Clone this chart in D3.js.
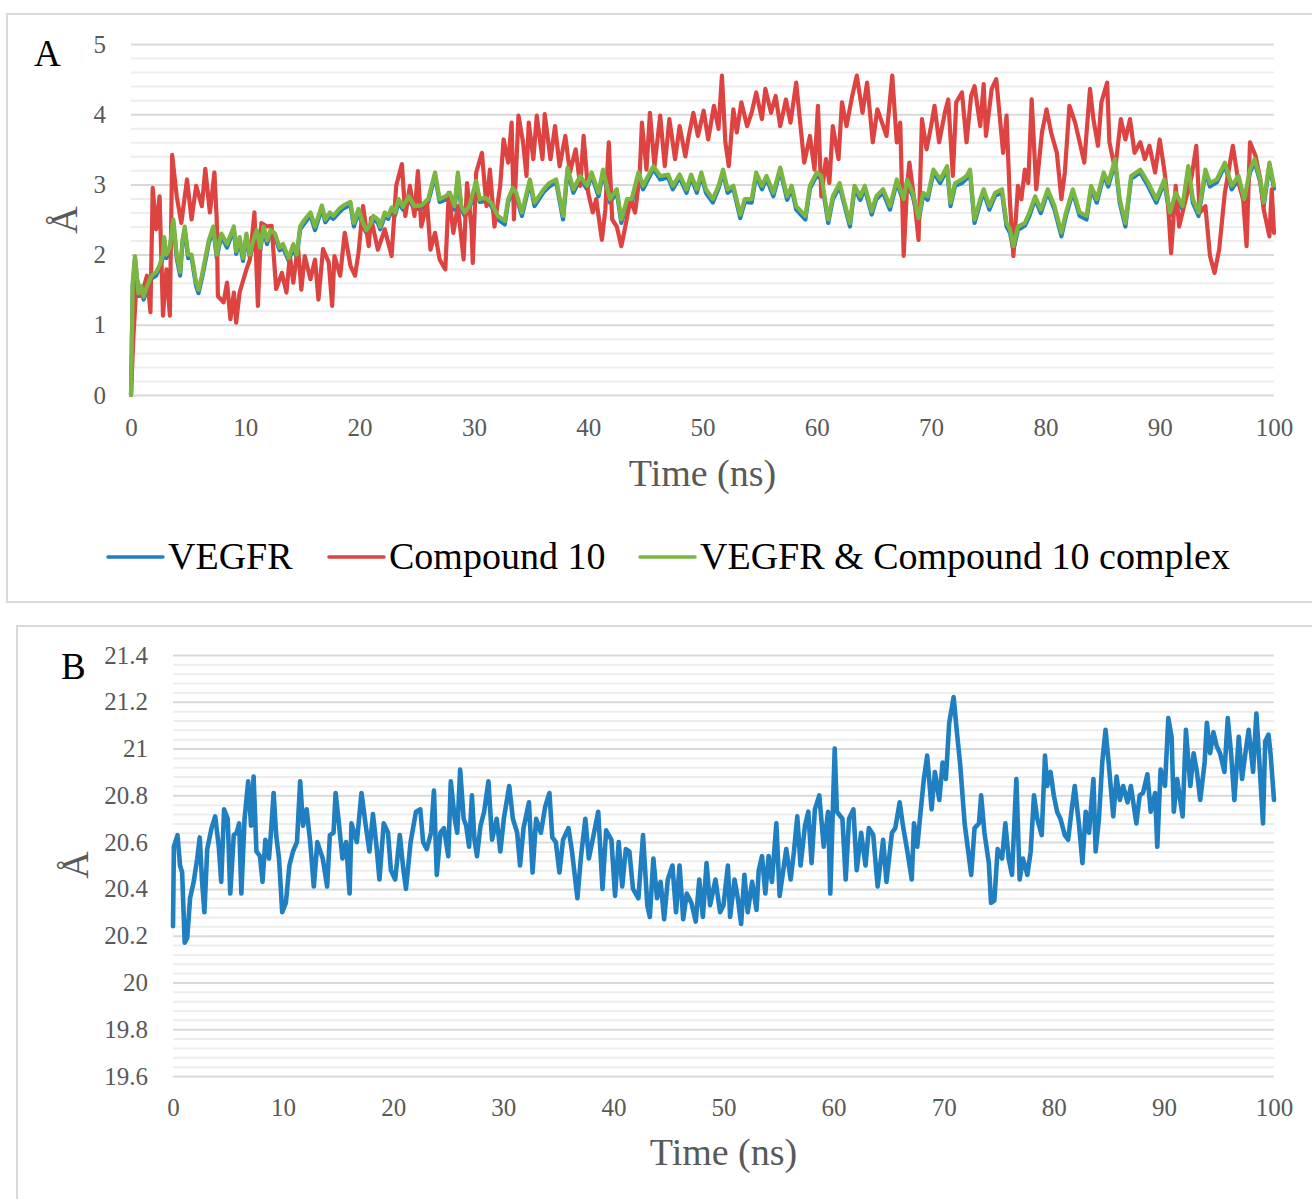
<!DOCTYPE html>
<html>
<head>
<meta charset="utf-8">
<script src="https://cdn.jsdelivr.net/npm/d3@7"></script>
<style>
  body { margin: 0; background: #fff; }
  svg { display: block; }
  text { font-family: "Liberation Serif", "Times New Roman", serif; }
</style>
</head>
<body>
<svg id="fig" width="1312" height="1199"></svg>
<script>
// ---------- Panel A: RMSD (Å) over 100 ns ----------
const timeTicks = [0, 10, 20, 30, 40, 50, 60, 70, 80, 90, 100];
const rmsdTicks = [0, 1, 2, 3, 4, 5];
const seriesNames = ["VEGFR", "Compound 10", "VEGFR & Compound 10 complex"];

// [time (ns), RMSD (Å)]
const vegfrRmsd = [[0,0],[0.15,1.55],[0.35,1.95],[0.65,1.41],[0.9,1.5],[1.1,1.36],[1.4,1.5],[1.8,1.66],[2.2,1.7],[2.5,1.81],[2.8,1.96],[2.9,2.21],[3.1,1.95],[3.4,2.06],[3.7,2.46],[4.0,1.95],[4.3,1.7],[4.5,2.16],[4.7,2.36],[5.0,1.95],[5.3,1.96],[5.5,1.75],[5.7,1.55],[5.9,1.45],[6.2,1.66],[6.5,1.9],[6.8,2.16],[7.2,2.36],[7.5,1.96],[7.9,2.26],[8.4,2.1],[9.0,2.36],[9.2,2.01],[9.5,2.2],[9.8,1.91],[10.1,2.26],[10.4,1.96],[10.7,2.15],[11.0,2.31],[11.3,2.06],[11.6,2.36],[11.9,2.15],[12.2,2.31],[12.6,2.25],[13.0,2.06],[13.3,2.1],[13.8,1.91],[14.2,2.1],[14.5,1.96],[14.8,2.36],[15.2,2.45],[15.7,2.56],[16.1,2.35],[16.7,2.66],[17.0,2.46],[17.4,2.55],[17.7,2.51],[18.2,2.6],[18.6,2.66],[19.2,2.71],[19.5,2.4],[19.9,2.61],[20.3,2.4],[20.6,2.31],[21.0,2.4],[21.2,2.51],[21.6,2.45],[21.8,2.36],[22.2,2.55],[22.5,2.51],[22.8,2.62],[23.1,2.56],[23.4,2.74],[23.8,2.64],[24.3,2.78],[24.8,2.65],[25.4,2.65],[26.0,2.75],[26.6,3.12],[27.0,2.75],[27.5,2.78],[27.9,2.84],[28.3,2.64],[28.6,3.12],[28.9,2.65],[29.2,2.55],[29.6,2.65],[30.2,3.0],[30.5,2.75],[31.0,2.76],[31.5,2.7],[32.1,2.5],[32.7,2.43],[33.0,2.75],[33.4,2.9],[33.7,2.84],[34.2,2.55],[34.9,3.03],[35.3,2.69],[36.1,2.89],[36.6,2.97],[37.2,3.03],[37.8,2.5],[38.2,3.2],[38.7,2.88],[39.3,3.08],[39.9,2.93],[40.3,3.13],[40.9,2.83],[41.3,3.17],[41.9,2.74],[42.5,2.89],[42.9,2.45],[43.4,2.75],[43.8,2.74],[44.4,3.13],[44.8,2.93],[45.7,3.22],[46.3,3.07],[47.0,3.1],[47.4,2.93],[48.0,3.1],[48.6,2.88],[49.0,3.1],[49.5,2.88],[49.9,3.13],[50.3,2.88],[50.9,2.74],[51.4,2.94],[51.8,3.17],[52.2,2.88],[52.7,2.94],[53.3,2.52],[53.7,2.75],[54.3,2.74],[54.7,3.13],[55.2,2.93],[55.6,3.08],[56.2,2.83],[56.8,3.2],[57.4,2.78],[57.8,2.94],[58.2,2.64],[59.0,2.5],[59.4,2.94],[60.0,3.13],[60.4,3.07],[61.0,2.45],[61.4,2.79],[62.0,2.97],[62.5,2.65],[62.9,2.4],[63.3,2.94],[63.8,2.78],[64.2,2.94],[64.8,2.57],[65.2,2.79],[65.8,2.88],[66.4,2.64],[67.0,3.03],[67.6,2.74],[67.9,3.03],[68.4,2.83],[68.9,2.47],[69.3,2.84],[69.7,2.78],[70.2,3.17],[70.8,3.02],[71.4,3.22],[71.7,2.69],[72.1,2.98],[72.7,3.02],[73.1,3.08],[73.4,3.17],[73.8,2.45],[74.3,2.74],[74.6,2.89],[75.1,2.64],[75.6,2.84],[76.2,2.88],[76.6,2.4],[76.9,2.31],[77.2,2.07],[77.6,2.35],[78.2,2.41],[78.6,2.55],[79.1,2.79],[79.6,2.59],[80.2,2.89],[80.8,2.64],[81.4,2.26],[81.8,2.55],[82.4,2.89],[83.0,2.55],[83.6,2.5],[84.0,2.94],[84.5,2.74],[85.1,3.13],[85.5,2.97],[86.1,3.32],[86.5,2.74],[87.0,2.4],[87.5,3.08],[88.3,3.17],[89.0,2.97],[89.7,2.74],[90.4,3.03],[90.9,2.55],[91.4,2.84],[92.0,2.64],[92.5,3.22],[92.9,2.74],[93.4,2.55],[94.0,3.17],[94.4,2.97],[95.0,3.03],[95.7,3.27],[96.3,2.93],[96.9,3.08],[97.4,2.74],[97.9,3.17],[98.3,3.32],[98.8,3.03],[99.1,2.69],[99.6,3.27],[100,2.94]];

const compoundRmsd = [[0,0],[0.2,0.8],[0.5,1.65],[0.9,1.41],[1.4,1.7],[1.7,1.18],[1.9,2.95],[2.2,2.36],[2.5,2.83],[2.8,1.13],[3.1,1.79],[3.4,1.13],[3.6,3.42],[4.0,2.83],[4.4,2.45],[4.9,3.07],[5.3,2.5],[5.7,2.98],[6.2,2.69],[6.5,3.22],[6.9,2.6],[7.3,3.17],[7.5,2.5],[7.6,1.41],[8.1,1.32],[8.4,1.6],[8.7,1.08],[9.0,1.46],[9.2,1.03],[9.5,1.46],[10.1,1.79],[10.4,1.93],[10.8,2.6],[11.1,1.27],[11.4,2.45],[11.9,2.4],[12.3,2.41],[12.7,1.51],[13.2,1.74],[13.6,1.46],[13.9,1.98],[14.2,1.6],[14.6,2.12],[14.9,1.5],[15.2,1.98],[15.7,1.65],[16.1,1.93],[16.4,1.36],[16.8,2.08],[17.3,1.89],[17.6,1.27],[17.8,1.98],[18.3,1.7],[18.7,2.31],[19.2,1.84],[19.6,1.7],[19.9,2.02],[20.3,2.69],[20.8,2.12],[21.0,2.52],[21.6,2.07],[22.2,2.36],[22.8,1.98],[23.2,2.98],[23.7,3.29],[24.0,2.55],[24.4,2.98],[24.8,2.55],[25.1,3.19],[25.4,2.4],[25.9,2.74],[26.2,2.07],[26.6,2.31],[27.0,1.93],[27.5,1.79],[27.8,2.88],[28.2,2.31],[28.6,2.69],[29.1,1.93],[29.4,3.02],[29.8,2.36],[29.9,1.88],[30.2,3.17],[30.7,3.45],[31.1,2.69],[31.4,3.21],[31.8,2.4],[32.3,2.98],[32.6,3.64],[33.0,3.31],[33.3,3.88],[33.5,2.5],[33.9,3.98],[34.3,3.6],[34.6,3.12],[34.8,3.88],[35.2,3.36],[35.5,3.98],[36.0,3.36],[36.2,4.0],[36.7,3.36],[37.1,3.83],[37.5,3.26],[38.0,3.69],[38.4,3.17],[38.9,3.5],[39.3,2.98],[39.6,3.69],[40.0,2.88],[40.4,2.6],[40.7,2.79],[41.2,2.21],[41.5,2.64],[41.8,3.6],[42.1,2.5],[42.5,2.4],[42.9,2.12],[43.2,2.36],[43.7,2.79],[44.1,2.6],[44.5,3.12],[44.7,3.88],[45.1,3.21],[45.4,4.02],[45.8,3.26],[46.3,3.98],[46.7,3.26],[47.1,3.93],[47.6,3.36],[48.0,3.83],[48.5,3.4],[48.8,3.69],[49.2,4.02],[49.6,3.69],[50.1,4.05],[50.5,3.64],[51.0,4.12],[51.4,3.79],[51.7,4.55],[52.0,3.6],[52.3,3.26],[52.7,4.07],[53.0,3.74],[53.4,4.17],[53.9,3.83],[54.3,4.02],[54.7,4.31],[55.2,3.93],[55.5,4.36],[56.0,4.02],[56.4,4.26],[56.8,3.83],[57.3,4.21],[57.7,3.88],[58.2,4.45],[58.6,3.79],[58.9,3.31],[59.4,3.69],[59.8,3.21],[60.1,4.12],[60.4,2.83],[60.8,3.36],[61.1,3.02],[61.4,3.83],[61.9,3.36],[62.2,4.17],[62.6,3.83],[63.1,4.26],[63.5,4.55],[64.0,4.02],[64.4,4.45],[64.9,3.6],[65.3,4.07],[65.6,3.93],[66.1,3.69],[66.6,4.55],[67.0,3.6],[67.3,3.88],[67.6,1.98],[67.9,2.98],[68.1,3.31],[68.6,2.69],[68.9,2.21],[69.2,3.93],[69.6,3.5],[70.0,3.83],[70.3,4.12],[70.7,3.6],[71.2,4.02],[71.5,4.21],[71.9,3.12],[72.2,4.17],[72.7,4.31],[73.1,3.6],[73.5,4.26],[73.8,4.4],[74.3,3.83],[74.6,4.43],[74.8,3.69],[75.3,4.36],[75.7,4.5],[76.0,3.98],[76.3,3.45],[76.6,3.98],[76.9,2.74],[77.2,1.98],[77.6,2.98],[77.9,2.79],[78.2,3.21],[78.5,3.02],[78.8,4.21],[79.2,2.93],[79.7,3.74],[80.1,4.07],[80.5,3.74],[81.0,3.45],[81.4,2.79],[81.7,3.17],[82.1,4.12],[82.6,3.88],[83.0,3.6],[83.4,3.31],[83.9,4.36],[84.2,3.93],[84.6,3.55],[84.9,4.17],[85.4,4.45],[85.6,3.6],[86.1,3.21],[86.6,3.93],[87.0,3.64],[87.4,3.93],[87.8,3.45],[88.3,3.6],[88.7,3.36],[89.1,3.55],[89.6,3.17],[90.0,3.64],[90.4,3.21],[90.7,2.79],[91.0,2.02],[91.4,2.98],[91.7,2.4],[92.2,2.74],[92.8,3.12],[93.2,3.55],[93.5,2.6],[94.0,2.69],[94.4,1.98],[94.8,1.74],[95.2,2.07],[95.7,2.88],[96.1,3.26],[96.4,3.55],[96.9,3.02],[97.3,2.79],[97.6,2.12],[97.9,3.6],[98.4,3.4],[98.8,3.07],[99.1,2.64],[99.6,2.26],[99.8,2.93],[100,2.31]];

const complexRmsd = [[0,0],[0.15,1.6],[0.35,1.98],[0.65,1.45],[0.9,1.55],[1.1,1.4],[1.4,1.55],[1.8,1.7],[2.2,1.75],[2.5,1.85],[2.8,2.0],[2.9,2.25],[3.1,2.0],[3.4,2.1],[3.7,2.5],[4.0,2.0],[4.3,1.75],[4.5,2.2],[4.7,2.4],[5.0,2.0],[5.3,2.0],[5.5,1.8],[5.7,1.6],[5.9,1.5],[6.2,1.7],[6.5,1.95],[6.8,2.2],[7.2,2.4],[7.5,2.0],[7.9,2.3],[8.4,2.15],[9.0,2.4],[9.2,2.05],[9.5,2.25],[9.8,1.95],[10.1,2.3],[10.4,2.0],[10.7,2.2],[11.0,2.35],[11.3,2.1],[11.6,2.4],[11.9,2.2],[12.2,2.35],[12.6,2.3],[13.0,2.1],[13.3,2.15],[13.8,1.95],[14.2,2.15],[14.5,2.0],[14.8,2.4],[15.2,2.5],[15.7,2.6],[16.1,2.4],[16.7,2.7],[17.0,2.5],[17.4,2.6],[17.7,2.55],[18.2,2.65],[18.6,2.7],[19.2,2.75],[19.5,2.45],[19.9,2.65],[20.3,2.45],[20.6,2.35],[21.0,2.45],[21.2,2.55],[21.6,2.5],[21.8,2.4],[22.2,2.6],[22.5,2.55],[22.8,2.67],[23.1,2.6],[23.4,2.79],[23.8,2.68],[24.3,2.83],[24.8,2.69],[25.4,2.7],[26.0,2.79],[26.6,3.17],[27.0,2.79],[27.5,2.83],[27.9,2.88],[28.3,2.69],[28.6,3.17],[28.9,2.69],[29.2,2.6],[29.6,2.69],[30.2,3.05],[30.5,2.79],[31.0,2.81],[31.5,2.74],[32.1,2.55],[32.7,2.48],[33.0,2.79],[33.4,2.95],[33.7,2.88],[34.2,2.6],[34.9,3.07],[35.3,2.74],[36.1,2.93],[36.6,3.02],[37.2,3.07],[37.8,2.55],[38.2,3.24],[38.7,2.93],[39.3,3.12],[39.9,2.98],[40.3,3.17],[40.9,2.88],[41.3,3.21],[41.9,2.79],[42.5,2.93],[42.9,2.5],[43.4,2.79],[43.8,2.79],[44.4,3.17],[44.8,2.98],[45.7,3.26],[46.3,3.12],[47.0,3.14],[47.4,2.98],[48.0,3.14],[48.6,2.93],[49.0,3.14],[49.5,2.93],[49.9,3.17],[50.3,2.93],[50.9,2.79],[51.4,2.98],[51.8,3.21],[52.2,2.93],[52.7,2.98],[53.3,2.57],[53.7,2.79],[54.3,2.79],[54.7,3.17],[55.2,2.98],[55.6,3.12],[56.2,2.88],[56.8,3.24],[57.4,2.83],[57.8,2.98],[58.2,2.69],[59.0,2.55],[59.4,2.98],[60.0,3.17],[60.4,3.12],[61.0,2.5],[61.4,2.83],[62.0,3.02],[62.5,2.69],[62.9,2.45],[63.3,2.98],[63.8,2.83],[64.2,2.98],[64.8,2.62],[65.2,2.83],[65.8,2.93],[66.4,2.69],[67.0,3.07],[67.6,2.79],[67.9,3.07],[68.4,2.88],[68.9,2.52],[69.3,2.88],[69.7,2.83],[70.2,3.21],[70.8,3.07],[71.4,3.26],[71.7,2.74],[72.1,3.02],[72.7,3.07],[73.1,3.12],[73.4,3.21],[73.8,2.5],[74.3,2.79],[74.6,2.93],[75.1,2.69],[75.6,2.88],[76.2,2.93],[76.6,2.45],[76.9,2.36],[77.2,2.12],[77.6,2.4],[78.2,2.45],[78.6,2.6],[79.1,2.83],[79.6,2.64],[80.2,2.93],[80.8,2.69],[81.4,2.31],[81.8,2.6],[82.4,2.93],[83.0,2.6],[83.6,2.55],[84.0,2.98],[84.5,2.79],[85.1,3.17],[85.5,3.02],[86.1,3.36],[86.5,2.79],[87.0,2.45],[87.5,3.12],[88.3,3.21],[89.0,3.02],[89.7,2.79],[90.4,3.07],[90.9,2.6],[91.4,2.88],[92.0,2.69],[92.5,3.26],[92.9,2.79],[93.4,2.6],[94.0,3.21],[94.4,3.02],[95.0,3.07],[95.7,3.31],[96.3,2.98],[96.9,3.12],[97.4,2.79],[97.9,3.21],[98.3,3.36],[98.8,3.07],[99.1,2.74],[99.6,3.31],[100,2.98]];

// ---------- Panel B: radius of gyration (Å) ----------
const rgTicks = [19.6, 19.8, 20, 20.2, 20.4, 20.6, 20.8, 21, 21.2, 21.4];
const rgTickLabels = ["19.6", "19.8", "20", "20.2", "20.4", "20.6", "20.8", "21", "21.2", "21.4"];

const vegfrRg = [[0,20.24],[0.08,20.58],[0.41,20.63],[0.64,20.5],[0.83,20.47],[1.06,20.17],[1.29,20.19],[1.55,20.36],[1.88,20.43],[2.2,20.53],[2.43,20.62],[2.63,20.44],[2.85,20.3],[3.11,20.57],[3.5,20.66],[3.83,20.71],[4.16,20.58],[4.38,20.43],[4.64,20.74],[4.97,20.7],[5.2,20.38],[5.52,20.63],[5.78,20.64],[6.01,20.68],[6.21,20.38],[6.5,20.7],[6.83,20.86],[7.09,20.67],[7.32,20.88],[7.58,20.56],[7.9,20.54],[8.13,20.43],[8.39,20.61],[8.72,20.53],[8.94,20.67],[9.14,20.81],[9.37,20.63],[9.63,20.53],[9.92,20.3],[10.25,20.34],[10.57,20.5],[10.9,20.56],[11.26,20.6],[11.55,20.86],[11.81,20.67],[12.14,20.74],[12.46,20.6],[12.79,20.41],[13.11,20.6],[13.6,20.53],[14.0,20.41],[14.25,20.63],[14.58,20.64],[14.77,20.81],[15.07,20.68],[15.39,20.53],[15.72,20.6],[16.04,20.38],[16.21,20.68],[16.7,20.6],[17.12,20.81],[17.51,20.67],[17.84,20.56],[18.16,20.72],[18.49,20.58],[18.75,20.44],[19.14,20.68],[19.53,20.64],[19.79,20.48],[20.18,20.44],[20.6,20.63],[20.93,20.48],[21.16,20.4],[21.58,20.6],[22.07,20.73],[22.46,20.74],[22.72,20.6],[23.05,20.57],[23.44,20.64],[23.7,20.82],[23.96,20.46],[24.29,20.64],[24.61,20.66],[25.0,20.54],[25.23,20.86],[25.59,20.7],[25.82,20.64],[26.08,20.91],[26.4,20.7],[26.63,20.67],[26.89,20.58],[27.15,20.8],[27.38,20.61],[27.61,20.54],[27.93,20.67],[28.26,20.73],[28.65,20.86],[28.98,20.61],[29.4,20.7],[29.73,20.56],[30.05,20.7],[30.54,20.84],[30.87,20.7],[31.26,20.64],[31.52,20.5],[31.84,20.66],[32.33,20.77],[32.66,20.47],[32.98,20.7],[33.41,20.64],[33.8,20.75],[34.19,20.81],[34.45,20.62],[34.77,20.6],[35.1,20.47],[35.43,20.61],[35.92,20.66],[36.24,20.56],[36.73,20.36],[37.06,20.54],[37.45,20.7],[37.77,20.53],[38.2,20.63],[38.62,20.73],[39.01,20.4],[39.34,20.65],[39.82,20.61],[40.15,20.37],[40.48,20.6],[40.8,20.41],[41.13,20.57],[41.45,20.56],[41.78,20.4],[42.27,20.36],[42.69,20.63],[43.08,20.33],[43.31,20.28],[43.63,20.53],[43.96,20.36],[44.29,20.43],[44.61,20.27],[44.94,20.44],[45.36,20.5],[45.69,20.3],[46.01,20.5],[46.34,20.27],[46.66,20.38],[47.09,20.34],[47.48,20.26],[47.8,20.44],[48.13,20.28],[48.46,20.51],[48.78,20.33],[49.27,20.44],[49.69,20.3],[50.0,20.33],[50.4,20.5],[50.6,20.28],[51.0,20.44],[51.3,20.36],[51.6,20.25],[51.9,20.46],[52.2,20.3],[52.6,20.43],[53.0,20.31],[53.2,20.48],[53.5,20.54],[53.8,20.38],[54.1,20.54],[54.4,20.43],[54.8,20.68],[55.1,20.37],[55.4,20.47],[55.7,20.57],[56.1,20.44],[56.4,20.56],[56.7,20.71],[57.0,20.5],[57.4,20.67],[57.7,20.73],[58.0,20.51],[58.3,20.74],[58.7,20.8],[59.1,20.58],[59.5,20.73],[59.7,20.38],[60.1,21.0],[60.3,20.73],[60.8,20.7],[61.1,20.44],[61.4,20.7],[61.8,20.74],[62.1,20.48],[62.5,20.64],[62.9,20.5],[63.2,20.66],[63.6,20.63],[64.0,20.41],[64.5,20.61],[64.8,20.43],[65.3,20.64],[65.6,20.66],[66.0,20.77],[66.3,20.67],[66.7,20.56],[67.1,20.44],[67.3,20.68],[67.6,20.58],[67.9,20.73],[68.2,20.87],[68.5,20.97],[68.9,20.74],[69.2,20.9],[69.6,20.78],[69.9,20.94],[70.2,20.87],[70.5,21.11],[70.9,21.22],[71.2,21.07],[71.5,20.93],[71.9,20.68],[72.2,20.57],[72.5,20.46],[72.8,20.66],[73.2,20.68],[73.4,20.8],[73.7,20.64],[74.1,20.51],[74.3,20.34],[74.6,20.35],[74.9,20.57],[75.3,20.53],[75.6,20.68],[75.9,20.53],[76.2,20.46],[76.6,20.87],[76.9,20.44],[77.2,20.53],[77.6,20.46],[77.9,20.56],[78.2,20.8],[78.5,20.7],[78.9,20.63],[79.2,20.97],[79.4,20.84],[79.7,20.9],[80.0,20.8],[80.3,20.73],[80.6,20.7],[81.0,20.63],[81.3,20.61],[81.6,20.73],[81.9,20.84],[82.3,20.67],[82.6,20.51],[82.9,20.73],[83.2,20.64],[83.6,20.87],[83.8,20.56],[84.1,20.7],[84.4,20.94],[84.7,21.08],[85.0,20.93],[85.4,20.71],[85.7,20.88],[86.0,20.78],[86.3,20.84],[86.7,20.77],[87.0,20.84],[87.5,20.68],[87.8,20.8],[88.1,20.81],[88.5,20.89],[88.8,20.73],[89.2,20.81],[89.4,20.58],[89.7,20.91],[90.1,20.84],[90.4,21.13],[90.7,21.05],[90.9,20.73],[91.2,20.87],[91.7,20.71],[92.0,21.08],[92.4,20.84],[92.7,20.98],[93.0,20.9],[93.3,20.78],[93.7,20.94],[93.9,21.11],[94.2,20.98],[94.5,21.07],[94.8,21.01],[95.1,20.98],[95.5,20.9],[95.8,21.13],[96.1,20.98],[96.4,20.78],[96.8,21.05],[97.1,20.87],[97.4,20.98],[97.7,21.08],[98.1,20.9],[98.4,21.15],[98.7,20.92],[99.0,20.68],[99.2,21.03],[99.5,21.06],[99.7,20.97],[100,20.78]];

// ---------- styling ----------
const COLORS = { vegfr: "#1f7fc1", compound: "#dd4340", complex: "#7bb642" };
const TICK_GREY = "#595959";
const MAJOR_GRID = "#d9d9d9";
const MINOR_GRID = "#ededed";
const SERIF = "'Liberation Serif', 'Times New Roman', serif";

const svg = d3.select("#fig");

function drawPanel(cfg) {
  const g = svg.append("g");

  // outer frame of the chart area
  g.append("rect")
    .attr("x", cfg.frame.x).attr("y", cfg.frame.y)
    .attr("width", cfg.frame.w).attr("height", cfg.frame.h)
    .attr("fill", "#fff").attr("stroke", "#d9d9d9").attr("stroke-width", 2);

  const x = d3.scaleLinear().domain([0, 100]).range([cfg.left, cfg.right]);
  const y = d3.scaleLinear().domain(cfg.yDomain).range([cfg.bottom, cfg.top]);
  const w = cfg.right - cfg.left;

  // minor gridlines
  const minor = d3.range(cfg.yDomain[0], cfg.yDomain[1] + 1e-9, cfg.minorStep)
    .filter(v => !cfg.yTicks.some(t => Math.abs(t - v) < 1e-6));
  g.append("g")
    .attr("transform", `translate(${cfg.left},0)`)
    .call(d3.axisLeft(y).tickValues(minor).tickSize(-w).tickFormat(""))
    .call(s => s.select(".domain").remove())
    .call(s => s.selectAll("line").attr("stroke", MINOR_GRID).attr("stroke-width", 2));

  // major gridlines
  g.append("g")
    .attr("transform", `translate(${cfg.left},0)`)
    .call(d3.axisLeft(y).tickValues(cfg.yTicks).tickSize(-w).tickFormat(""))
    .call(s => s.select(".domain").remove())
    .call(s => s.selectAll("line").attr("stroke", MAJOR_GRID).attr("stroke-width", 2));

  // y tick labels
  g.append("g")
    .attr("transform", `translate(${cfg.left},0)`)
    .attr("font-family", SERIF)
    .call(d3.axisLeft(y).tickValues(cfg.yTicks).tickSize(0).tickPadding(cfg.yPad)
      .tickFormat((d, i) => cfg.yLabels[i]))
    .attr("font-family", SERIF)
    .call(s => s.select(".domain").remove())
    .call(s => s.selectAll("text").attr("font-size", 25).attr("fill", TICK_GREY));

  // x tick labels
  g.append("g")
    .attr("transform", `translate(0,${cfg.bottom})`)
    .call(d3.axisBottom(x).tickValues(timeTicks).tickSize(0).tickPadding(cfg.xPad)
      .tickFormat(d3.format("d")))
    .attr("font-family", SERIF)
    .call(s => s.select(".domain").remove())
    .call(s => s.selectAll("text").attr("font-size", 25).attr("fill", TICK_GREY));

  // series
  const line = d3.line().x(d => x(d[0])).y(d => y(d[1]));
  cfg.series.forEach(s => {
    g.append("path")
      .datum(s.data)
      .attr("d", line)
      .attr("fill", "none")
      .attr("stroke", s.color)
      .attr("stroke-width", cfg.lineWidth)
      .attr("stroke-linejoin", "round")
      .attr("stroke-linecap", "round");
  });

  // axis titles and panel letter
  g.append("text")
    .attr("x", (cfg.left + cfg.right) / 2).attr("y", cfg.titleY)
    .attr("text-anchor", "middle").attr("font-size", 38).attr("fill", TICK_GREY)
    .text("Time (ns)");

  g.append("text")
    .attr("transform", `translate(${cfg.unitX},${cfg.unitY}) rotate(-90)`)
    .attr("text-anchor", "middle").attr("font-size", 38).attr("fill", TICK_GREY)
    .text("Å");

  g.append("text")
    .attr("x", cfg.letterX).attr("y", cfg.letterY)
    .attr("font-size", 37).attr("fill", "#000")
    .text(cfg.letter);

  return { x, y };
}

// Panel A
drawPanel({
  frame: { x: 7, y: 14, w: 1330, h: 588 },
  left: 131, right: 1274, top: 44, bottom: 395,
  yDomain: [0, 5], yTicks: rmsdTicks, yLabels: rmsdTicks.map(String), minorStep: 0.2,
  yPad: 25, xPad: 23, lineWidth: 4.2,
  titleY: 486, unitX: 77, unitY: 220,
  letter: "A", letterX: 34, letterY: 66,
  series: [
    { data: vegfrRmsd, color: COLORS.vegfr },
    { data: compoundRmsd, color: COLORS.compound },
    { data: complexRmsd, color: COLORS.complex }
  ]
});

// legend for panel A
const legendItems = [
  { name: seriesNames[0], color: COLORS.vegfr, x0: 108 },
  { name: seriesNames[1], color: COLORS.compound, x0: 329 },
  { name: seriesNames[2], color: COLORS.complex, x0: 640 }
];
const legend = svg.append("g");
legendItems.forEach(it => {
  legend.append("line")
    .attr("x1", it.x0).attr("x2", it.x0 + 55)
    .attr("y1", 557).attr("y2", 557)
    .attr("stroke", it.color).attr("stroke-width", 3.5).attr("stroke-linecap", "round");
  legend.append("text")
    .attr("x", it.x0 + 60).attr("y", 569)
    .attr("font-size", 38).attr("fill", "#000")
    .text(it.name);
});

// Panel B
drawPanel({
  frame: { x: 17, y: 626, w: 1320, h: 600 },
  left: 173, right: 1274, top: 655, bottom: 1076,
  yDomain: [19.6, 21.4], yTicks: rgTicks, yLabels: rgTickLabels, minorStep: 0.04,
  yPad: 25, xPad: 22, lineWidth: 4.6,
  titleY: 1165, unitX: 88, unitY: 865,
  letter: "B", letterX: 61, letterY: 679,
  series: [{ data: vegfrRg, color: COLORS.vegfr }]
});
</script>
</body>
</html>
